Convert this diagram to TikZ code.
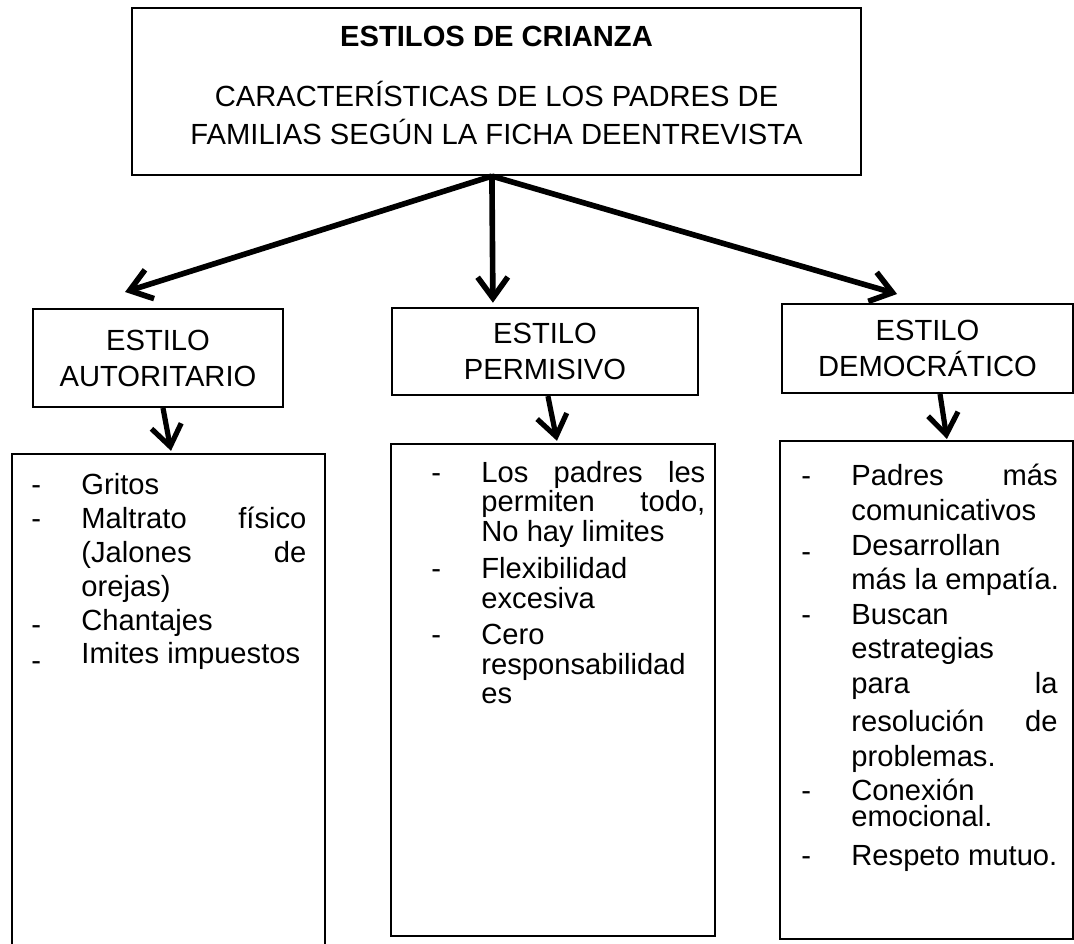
\documentclass[tikz,border=0pt]{standalone}
\usepackage{fontspec}
\setmainfont{Liberation Sans}
\usetikzlibrary{arrows.meta}
\newcommand{\guion}[1]{\makebox[24pt][l]{-}#1}
\newcommand{\guionbajo}[2]{\makebox[24pt][l]{\raisebox{#1}{-}}#2}
\newcommand{\sigue}[1]{\hspace*{24pt}#1}
\newcommand{\lleno}[2]{\makebox[#1][s]{#2}}
\hfuzz=5pt

\begin{document}
\begin{tikzpicture}[x=0.48pt, y=-0.48pt,
  caja/.style={draw, line width=1pt, rectangle, inner sep=0pt, align=center, font=\fontsize{14}{17.3}\selectfont},
  flecha/.style={-{Straight Barb[length=10pt,width=14.5pt]}, line width=2.7pt},
  lista/.style={anchor=base west, inner sep=0pt, font=\fontsize{14}{#1}\selectfont}]
\useasboundingbox (0,0) rectangle (1074,944);
%Boxes
\node[caja, minimum width=349.9pt, minimum height=80.2pt, font=\fontsize{14}{18.24}\selectfont] (raiz) at (496.5,91.5)
  {\textbf{ESTILOS DE CRIANZA}\\[10.56pt] CARACTERÍSTICAS DE LOS PADRES DE\\ FAMILIAS SEGÚN LA FICHA DEENTREVISTA\rule[-5.7pt]{0pt}{0pt}};
\node[caja, minimum width=120pt, minimum height=47pt] (autoritario) at (158,358) {ESTILO\\AUTORITARIO};
\node[caja, minimum width=146.9pt, minimum height=41.8pt] (permisivo) at (545,351.5) {ESTILO\\PERMISIVO};
\node[caja, minimum width=139.7pt, minimum height=42.7pt] (democratico) at (927.5,348.5) {ESTILO\\DEMOCRÁTICO};
\node[caja, minimum width=150.2pt, minimum height=262.1pt] (rasgosA) at (168.5,727) {};
\node[caja, minimum width=155.5pt, minimum height=236.2pt] (rasgosP) at (553,690) {};
\node[caja, minimum width=140.6pt, minimum height=239pt] (rasgosD) at (926.5,690) {};
%Arrows
\coordinate (salida) at ([xshift=-2.2pt]raiz.south);
\draw[flecha] (salida) -- ([xshift=-15.8pt,yshift=7.7pt]autoritario.north);
\draw[flecha] (salida) -- ([xshift=-25pt,yshift=2pt]permisivo.north);
\draw[flecha] (salida) -- ([xshift=-14.6pt,yshift=4.3pt]democratico.north);
\draw[flecha, line width=2.5pt] ([xshift=2.4pt]autoritario.south) -- ([xshift=1.2pt,yshift=1pt]rasgosA.north);
\draw[flecha, line width=2.5pt] ([xshift=1.4pt]permisivo.south) -- ([xshift=1.9pt,yshift=1pt]rasgosP.north);
\draw[flecha, line width=2.5pt] ([xshift=6pt]democratico.south) -- ([xshift=9.8pt,yshift=0.5pt]rasgosD.north);
%Text
\node[lista=16.2pt] (listaA) at (31,495) {\begin{tabular}[t]{@{}l@{}}
  \guion{Gritos}\\
  \guion{\lleno{108pt}{Maltrato físico}}\\
  \sigue{\lleno{108pt}{(Jalones de}}\\
  \sigue{orejas)}\\
  \guionbajo{-2pt}{Chantajes}\\
  \guionbajo{-3pt}{Imites impuestos}
\end{tabular}};
\node[lista=14pt] (listaP) at (431,482) {\begin{tabular}[t]{@{}l@{}}
  \guion{\lleno{107.5pt}{Los padres les}}\\
  \sigue{\lleno{107.5pt}{permiten todo,}}\\
  \sigue{No hay limites}\\[3.3pt]
  \guion{Flexibilidad}\\
  \sigue{excesiva}\\[3.3pt]
  \guion{Cero}\\
  \sigue{responsabilidad}\\
  \sigue{es}
\end{tabular}};
\node[lista=16.6pt] (listaD) at (801,486) {\begin{tabular}[t]{@{}l@{}}
  \guion{\lleno{99pt}{Padres más}}\\
  \sigue{comunicativos}\\
  \guionbajo{-3pt}{Desarrollan}\\
  \sigue{más la empatía.}\\
  \guion{Buscan}\\
  \sigue{estrategias}\\
  \sigue{\lleno{99pt}{para la}}\\[1.6pt]
  \sigue{\lleno{99pt}{resolución de}}\\
  \sigue{problemas.}\\
  \guion{Conexión}\\[-4pt]
  \sigue{emocional.}\\[2pt]
  \guion{Respeto mutuo.}
\end{tabular}};
\end{tikzpicture}
\end{document}
